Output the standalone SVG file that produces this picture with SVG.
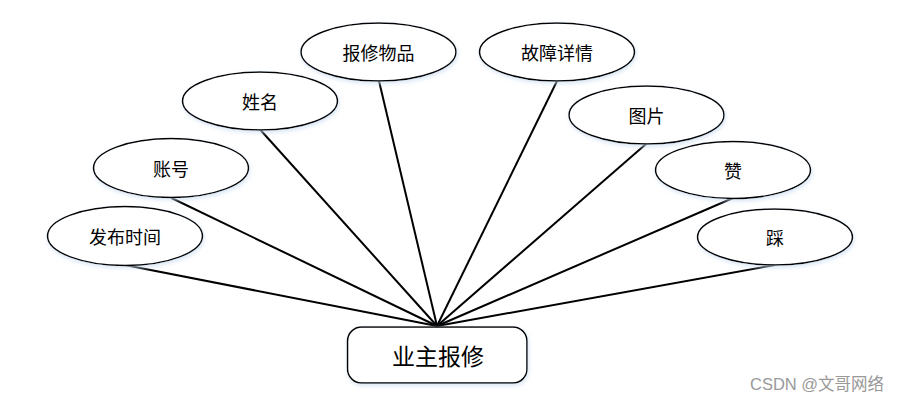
<svg xmlns="http://www.w3.org/2000/svg" width="901" height="403" viewBox="0 0 901 403">
<style>
.n ellipse,.n rect{fill:#fff;stroke:#000;stroke-width:1.5;filter:url(#sh)}
.n text{font-family:"Noto Sans CJK SC","Liberation Sans",sans-serif;font-size:18px;fill:#000;text-anchor:middle;dominant-baseline:central}
#edges line{stroke:#000;stroke-width:2}
.wm{font-family:"Liberation Sans","Noto Sans CJK SC",sans-serif;font-size:16.5px;fill:#999}
</style>
<defs>
<filter id="sh" x="-10%" y="-20%" width="120%" height="140%">
<feDropShadow dx="1" dy="2" stdDeviation="2" flood-color="#c8daf0" flood-opacity="0.7"/>
</filter>
</defs>
<rect width="901" height="403" fill="#fff"/>
<g id="edges">
<line x1="125" y1="265" x2="437" y2="326"/>
<line x1="171.5" y1="198" x2="437" y2="326"/>
<line x1="260.5" y1="130" x2="437" y2="326"/>
<line x1="379" y1="81" x2="437" y2="326"/>
<line x1="557" y1="81" x2="437" y2="326"/>
<line x1="646" y1="144" x2="437" y2="326"/>
<line x1="733" y1="198" x2="437" y2="326"/>
<line x1="775" y1="265" x2="437" y2="326"/>
</g>
<g id="n_fabushijian" class="n"><ellipse cx="125" cy="236" rx="77.5" ry="29.5"/><text x="125" y="236">发布时间</text></g>
<g id="n_zhanghao" class="n"><ellipse cx="171" cy="168" rx="77.5" ry="29.5"/><text x="171" y="168">账号</text></g>
<g id="n_xingming" class="n"><ellipse cx="260" cy="101" rx="77.5" ry="29"/><text x="260" y="101">姓名</text></g>
<g id="n_baoxiuwupin" class="n"><ellipse cx="378.5" cy="52" rx="77.5" ry="29"/><text x="378.5" y="52">报修物品</text></g>
<g id="n_guzhangxiangqing" class="n"><ellipse cx="557" cy="52" rx="77.5" ry="29"/><text x="557" y="52">故障详情</text></g>
<g id="n_tupian" class="n"><ellipse cx="646.5" cy="115" rx="77.5" ry="29"/><text x="646.5" y="115">图片</text></g>
<g id="n_zan" class="n"><ellipse cx="733" cy="170" rx="77.5" ry="28.5"/><text x="733" y="170">赞</text></g>
<g id="n_cai" class="n"><ellipse cx="775" cy="237" rx="77.5" ry="28"/><text x="775" y="237">踩</text></g>
<g id="n_yezhubaoxiu" class="n"><rect x="347.5" y="327" width="179.5" height="56" rx="14" ry="14"/><text x="438" y="355" style="font-size:23px">业主报修</text></g>
<text class="wm" x="750" y="390">CSDN @文哥网络</text>
</svg>
